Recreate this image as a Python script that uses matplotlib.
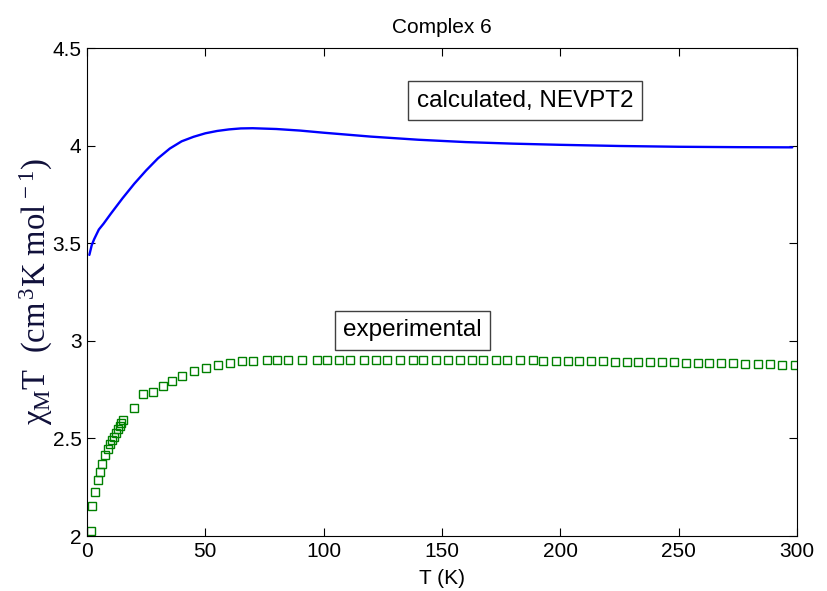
import matplotlib
matplotlib.use("Agg")
import matplotlib.pyplot as plt

# calculated NEVPT2 curve
calc_T = [1, 2, 3, 5, 7, 10, 15, 20, 25, 30, 35, 40, 45, 50, 55, 60, 65, 70,
          80, 90, 100, 120, 140, 160, 180, 200, 225, 250, 275, 298]
calc_chiT = [3.44, 3.49, 3.52, 3.57, 3.60, 3.65, 3.73, 3.805, 3.873, 3.935,
             3.985, 4.022, 4.045, 4.063, 4.075, 4.083, 4.088, 4.089, 4.085,
             4.077, 4.066, 4.046, 4.030, 4.018, 4.010, 4.004, 3.998, 3.994,
             3.992, 3.991]

# experimental points
exp_T = [1.6, 2.2, 3.2, 4.8, 5.6, 6.5, 7.5, 8.9, 9.6, 10.4, 11.3, 12.4, 13.2,
         13.9, 14.5, 15.3, 19.7, 23.8, 27.8, 32.0, 36.1, 40.1, 45.1, 50.4,
         55.5, 60.4, 65.5, 70.3, 75.9, 80.4, 85.1, 90.7, 97.1, 101.3, 106.5,
         111.2, 117.1, 122.2, 126.9, 132.3, 137.6, 142.1, 147.5, 152.7, 157.6,
         162.6, 167.5, 172.8, 177.6, 183.0, 188.6, 192.8, 198.1, 203.1, 208.0,
         213.0, 218.0, 223.0, 228.0, 233.0, 238.0, 243.0, 248.0, 253.0, 258.0,
         263.0, 268.0, 273.0, 278.0, 283.5, 288.8, 293.5, 299.0]
exp_chiT = [2.027, 2.154, 2.225, 2.287, 2.330, 2.369, 2.413, 2.444, 2.471,
            2.490, 2.509, 2.530, 2.547, 2.565, 2.577, 2.594, 2.654, 2.729,
            2.736, 2.768, 2.796, 2.818, 2.845, 2.862, 2.878, 2.886, 2.894,
            2.894, 2.900, 2.900, 2.902, 2.902, 2.902, 2.903, 2.903, 2.903,
            2.904, 2.904, 2.904, 2.904, 2.904, 2.904, 2.904, 2.904, 2.904,
            2.904, 2.903, 2.902, 2.902, 2.901, 2.900, 2.899, 2.898, 2.897,
            2.896, 2.895, 2.894, 2.893, 2.892, 2.891, 2.891, 2.890, 2.889,
            2.888, 2.887, 2.886, 2.885, 2.884, 2.883, 2.881, 2.879, 2.877,
            2.875]

x_ticks = [0, 50, 100, 150, 200, 250, 300]
y_ticks = [2, 2.5, 3, 3.5, 4, 4.5]
y_tick_labels = ["2", "2.5", "3", "3.5", "4", "4.5"]

plt.rcParams['font.family'] = ['Liberation Sans', 'DejaVu Sans']
plt.rcParams['mathtext.fontset'] = 'custom'
plt.rcParams['mathtext.rm'] = 'Liberation Serif'
plt.rcParams['mathtext.it'] = 'Liberation Serif:italic'

fig = plt.figure(figsize=(8.27, 5.91), dpi=100)
ax = fig.add_axes([87/827, 1-536/591, (797-87)/827, (536-48)/591])

ax.plot(calc_T, calc_chiT, color='#0000ff', lw=1.7, solid_capstyle='round')
ax.plot(exp_T, exp_chiT, ls='none', marker='s', ms=6.3, mfc='none',
        mec='#008000', mew=1.0)

ax.set_xlim(0, 300)
ax.set_ylim(2, 4.5)
ax.set_xticks(x_ticks)
ax.set_yticks(y_ticks)
ax.set_yticklabels(y_tick_labels)
ax.tick_params(direction='in', top=True, right=True, length=6, width=0.8,
               labelsize=15, pad=4)
for s in ax.spines.values():
    s.set_linewidth(0.8)

ax.set_title("Complex 6", fontsize=15, pad=11)
ax.set_xlabel("T (K)", fontsize=15, labelpad=6)
ax.set_ylabel("χ$_\\mathrm{M}$T  (cm$^{\\,3}$K mol$^{\\,-1}$)",
              fontsize=23.5, family=['Liberation Serif'], labelpad=-2,
              color='#10103a')

bbox = dict(boxstyle='square,pad=0.35', fc='white', ec='#404040', lw=1.0)
ax.text(185, 4.231, "calculated, NEVPT2", fontsize=17.5, ha='center',
        va='center', bbox=bbox)
ax.text(137.5, 3.053, "experimental", fontsize=17.5, ha='center', va='center',
        bbox=bbox)

fig.savefig("out.png", dpi=100)
